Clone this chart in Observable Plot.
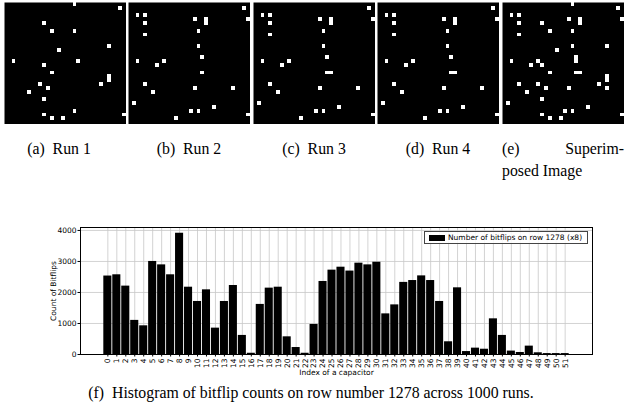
<!DOCTYPE html>
<html><head><meta charset="utf-8">
<script src="https://cdn.jsdelivr.net/npm/d3@7"></script>
<script src="https://cdn.jsdelivr.net/npm/@observablehq/plot@0.6"></script>
<style>
body{margin:0;background:#fff;}
#fig{position:relative;width:632px;height:410px;overflow:hidden;font-family:"Liberation Serif",serif;color:#000;}
.cap{position:absolute;font-size:15.8px;line-height:18px;white-space:nowrap;text-align:center;}
.legend{position:absolute;border:1px solid #444;background:rgba(255,255,255,0.85);font-family:"DejaVu Sans",sans-serif;font-size:7.5px;line-height:10px;box-sizing:border-box;}
</style></head><body><div id="fig"></div>
<script>
// ---- data: bitflip cells (column, row) on a 32x32 grid ----
const gridCells = 32;
const run1 = [[18,0],[30,1],[10,5],[12,7],[18,7],[27,11],[14,12],[2,15],[19,15],[10,16],[12,18],[27,19],[27,20],[9,21],[25,21],[11,22],[6,23],[10,25],[18,28],[10,29],[31,29],[12,30],[15,30]];
const run2 = [[30,1],[2,3],[4,3],[17,4],[20,4],[31,4],[4,5],[20,5],[18,7],[4,8],[18,11],[19,14],[2,15],[9,15],[7,16],[19,18],[4,21],[17,22],[27,22],[6,23],[1,26],[22,27],[16,28],[18,28],[31,29],[12,30]];
const run3 = [[30,1],[2,3],[4,3],[17,4],[20,4],[31,4],[4,5],[20,5],[18,7],[4,8],[18,11],[19,14],[2,15],[9,15],[7,16],[19,18],[20,18],[4,21],[17,22],[27,22],[6,23],[1,26],[22,27],[16,28],[18,28],[31,29],[12,30]];
const run4 = [[30,1],[2,3],[4,3],[17,4],[20,4],[31,4],[4,5],[20,5],[18,7],[4,8],[18,11],[19,14],[2,15],[9,15],[7,16],[19,18],[20,18],[4,21],[17,22],[27,22],[6,23],[1,26],[22,27],[16,28],[18,28],[31,29],[12,30]];
const superimposed = [[18,0],[30,1],[2,3],[4,3],[17,4],[20,4],[31,4],[4,5],[10,5],[20,5],[12,7],[18,7],[4,8],[18,11],[27,11],[14,12],[19,14],[2,15],[9,15],[19,15],[7,16],[10,16],[12,18],[19,18],[20,18],[27,19],[27,20],[4,21],[9,21],[25,21],[11,22],[17,22],[27,22],[6,23],[10,25],[1,26],[22,27],[16,28],[18,28],[10,29],[31,29],[12,30],[15,30]];
const panelCaptions = ["(a)\u2002Run 1","(b)\u2002Run 2","(c)\u2002Run 3","(d)\u2002Run 4"];
const captionE = ["(e) Superim-", "posed Image"];

// ---- data: histogram ----
const capacitorIndex = [0,1,2,3,4,5,6,7,8,9,10,11,12,13,14,15,16,17,18,19,20,21,22,23,24,25,26,27,28,29,30,31,32,33,34,35,36,37,38,39,40,41,42,43,44,45,46,47,48,49,50,51];
const bitflips = [2530,2570,2205,1100,925,3000,2890,2570,3910,2170,1710,2085,850,1710,2225,615,40,1615,2140,2170,570,225,40,970,2355,2720,2815,2690,2945,2890,2975,1310,1600,2325,2385,2535,2385,1710,410,2150,95,205,170,1150,615,110,65,270,55,30,30,30];
const yTicks = [0,1000,2000,3000,4000];
const legendLabel = "Number of bitflips on row 1278 (x8)";
const xLabel = "Index of a capacitor";
const yLabel = "Count of Bitflips";
const mainCaption = "(f)\u2002Histogram of bitflip counts on row number 1278 across 1000 runs.";

const fig = document.getElementById("fig");
function place(el, left, top){ el.style.position="absolute"; el.style.left=left+"px"; el.style.top=top+"px"; fig.appendChild(el); return el; }

// ---- image panels ----
const panels = [run1, run2, run3, run4, superimposed];
const panelLefts = [4,128,253,377,502];
const panelSize = 122, panelTop = 2;
panels.forEach((cells, k) => {
  const p = Plot.plot({
    width: panelSize, height: panelSize, margin: 0,
    x: {domain: [0, gridCells], axis: null},
    y: {domain: [0, gridCells], axis: null, reverse: true},
    marks: [
      Plot.frame({fill: "black", stroke: null}),
      Plot.rect(cells, {x1: d => d[0], x2: d => d[0] + 1, y1: d => d[1], y2: d => d[1] + 1, fill: "white", shapeRendering: "crispEdges"})
    ]
  });
  place(p, panelLefts[k], panelTop);
});

// captions a-d
const capShift = [-6, 0, 0, 0];
panelCaptions.forEach((t, k) => {
  const d = document.createElement("div");
  d.className = "cap"; d.textContent = t; d.style.width = panelSize + "px";
  place(d, panelLefts[k] + capShift[k], 140);
});
// caption e (first line justified)
{
  const e1 = document.createElement("div");
  e1.className = "cap"; e1.style.width = panelSize + "px"; e1.style.whiteSpace = "normal";
  e1.style.textAlign = "justify"; e1.style.textAlignLast = "justify";
  e1.textContent = captionE[0];
  place(e1, panelLefts[4], 140);
  const e2 = document.createElement("div");
  e2.className = "cap"; e2.style.textAlign = "left"; e2.textContent = captionE[1];
  place(e2, panelLefts[4], 162);
}

// ---- histogram ----
const table = capacitorIndex.map((i, k) => ({i, v: bitflips[k]}));
const barHalf = 0.45;
const hist = Plot.plot({
  width: 632, height: 165,
  marginLeft: 80, marginRight: 40, marginTop: 12, marginBottom: 26,
  style: {fontFamily: "DejaVu Sans, sans-serif", fontSize: "7.5px", background: "transparent", color: "black"},
  x: {type: "linear", domain: [-3.05, 54.05]},
  y: {domain: [0, 4095]},
  marks: [
    Plot.gridX(capacitorIndex, {stroke: "#c8c8c8", strokeOpacity: 1, strokeWidth: 0.8}),
    Plot.gridY(yTicks, {stroke: "#c8c8c8", strokeOpacity: 1, strokeWidth: 0.8}),
    Plot.rectY(table, {x1: d => d.i - barHalf, x2: d => d.i + barHalf, y: "v", fill: "black"}),
    Plot.axisX({ticks: capacitorIndex, tickFormat: d => String(d), tickRotate: -90, tickSize: 2.5, tickPadding: 1.5,
      label: xLabel, labelAnchor: "center", labelArrow: "none", labelOffset: 20}),
    Plot.axisY({ticks: yTicks, tickFormat: d => String(d), tickSize: 2.5, tickPadding: 1.5,
      label: yLabel, labelAnchor: "center", labelArrow: "none", labelOffset: 30}),
    Plot.frame({stroke: "black", strokeWidth: 1})
  ]
});
place(hist, 0, 215);

// legend
{
  const lg = document.createElement("div");
  lg.className = "legend"; lg.style.width = "164px"; lg.style.height = "13px";
  const sw = document.createElement("div");
  sw.style.cssText = "position:absolute;left:4px;top:3px;width:16px;height:6px;background:black;";
  const tx = document.createElement("div");
  tx.style.cssText = "position:absolute;left:23px;top:1px;white-space:nowrap;";
  tx.textContent = legendLabel;
  lg.append(sw, tx);
  place(lg, 424, 231);
}

// main caption
{
  const d = document.createElement("div");
  d.className = "cap"; d.textContent = mainCaption; d.style.width = "622px";
  place(d, 0, 384);
}
</script></body></html>
